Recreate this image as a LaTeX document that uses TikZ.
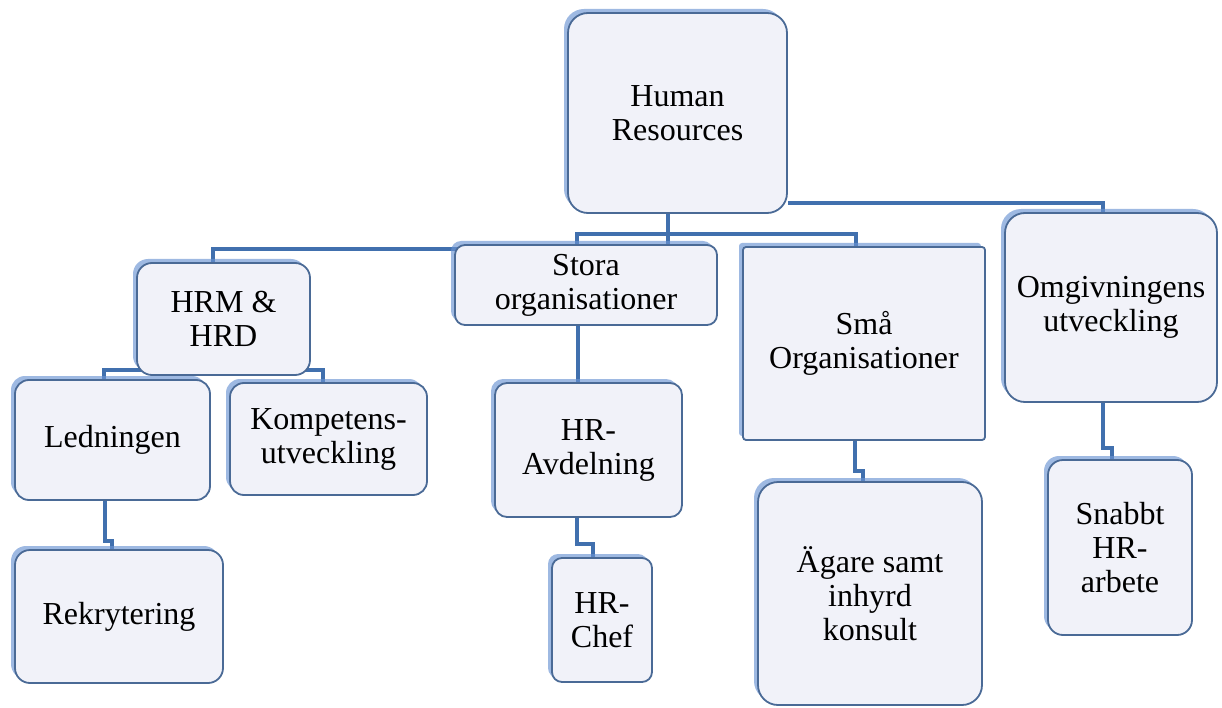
\documentclass[tikz,border=0pt]{standalone}
\usepackage{fontspec}
\setmainfont{Liberation Serif}
\usetikzlibrary{shadows,calc}
\definecolor{boxfill}{HTML}{F1F2F9}
\definecolor{boxline}{HTML}{4A6A96}
\definecolor{shadeblue}{HTML}{6A93D2}
\definecolor{linkblue}{HTML}{4170AE}
\pgfdeclarelayer{background}
\pgfsetlayers{background,main}
\tikzset{
  box/.style={draw=boxline, line width=1.8pt, fill=boxfill, rounded corners=#1,
    align=center, inner sep=2pt, text=black,
    font=\fontsize{32}{34}\selectfont,
    drop shadow={shadow xshift=-4pt, shadow yshift=4pt, fill=shadeblue, opacity=0.65}},
  box/.default=14pt,
  conn/.style={draw=linkblue, line width=4pt, line join=miter}
}
\begin{document}
\begin{tikzpicture}[x=1pt, y=-1pt]
\useasboundingbox (0,0) rectangle (1222,708);

% nodes of the chart
\node[box=20pt, minimum width=219pt, minimum height=200pt] (hr) at (677.5,113) {Human\\Resources};
\node[box=15pt, minimum width=173pt, minimum height=112pt] (hrm) at (223.5,319) {HRM \&\\HRD};
\node[box=10pt, minimum width=262pt, minimum height=80pt] (stora) at (586,285) {Stora\\organisationer};
\node[box=3pt, minimum width=242pt, minimum height=193pt] (sma) at (864,343.5) {Små\\Organisationer};
\node[box=20pt, minimum width=212pt, minimum height=189pt] (omg) at (1111,307.5) {Omgivningens\\utveckling};
\node[box=14pt, minimum width=195pt, minimum height=120pt] (led) at (112.5,440) {Ledningen};
\node[box=14pt, minimum width=197pt, minimum height=112pt] (komp) at (328.5,439) {Kompetens-\\utveckling};
\node[box=15pt, minimum width=208pt, minimum height=133pt] (rek) at (119,616.5) {Rekrytering};
\node[box=12pt, minimum width=187pt, minimum height=134pt] (hravd) at (588.5,450) {HR-\\Avdelning};
\node[box=10pt, minimum width=100pt, minimum height=124pt] (chef) at (602,620) {HR-\\Chef};
\node[box=20pt, minimum width=224pt, minimum height=223pt] (agare) at (870,593.5) {Ägare samt\\inhyrd\\konsult};
\node[box=15pt, minimum width=144pt, minimum height=175pt] (snabbt) at (1120,547.5) {Snabbt\\HR-\\arbete};

% attachment points
\coordinate (hrb) at ([xshift=-9.5pt]hr.south);
\coordinate (hre) at ([yshift=-90pt]hr.east);
\coordinate (bus1) at (668,249);
\coordinate (bus2) at (223.5,370);
\coordinate (hrmt) at ([xshift=-10.5pt]hrm.north);
\coordinate (stt) at ([xshift=-9pt]stora.north);
\coordinate (smt) at ([xshift=-8pt]sma.north);
\coordinate (omgt) at ([xshift=-8pt]omg.north);
\coordinate (ledt) at ([xshift=-9pt]led.north);
\coordinate (kompt) at ([xshift=-5.5pt]komp.north);

% connectors behind the boxes
\begin{pgfonlayer}{background}
\draw[conn] (hrb) -- (bus1) -| (hrmt);
\draw[conn] (stt) -- ++(0,-10) -| (smt);
\draw[conn] (hre) -| (omgt);
\draw[conn] (hrm.south) -- (bus2);
\draw[conn] (ledt) |- (bus2) -| (kompt);
\draw[conn] ([xshift=-7.5pt]led.south) -- ++(0,40) -| ([xshift=-7pt]rek.north);
\draw[conn] ([xshift=-8pt]stora.south) -- ([xshift=-10.5pt]hravd.north);
\draw[conn] ([xshift=-11.5pt]hravd.south) -- ++(0,26) -| ([xshift=-9pt]chef.north);
\draw[conn] ([xshift=-9pt]sma.south) -- ++(0,30) -| ([xshift=-7pt]agare.north);
\draw[conn] ([xshift=-8pt]omg.south) -- ++(0,45) -| ([xshift=-8pt]snabbt.north);
\end{pgfonlayer}
\end{tikzpicture}
\end{document}
